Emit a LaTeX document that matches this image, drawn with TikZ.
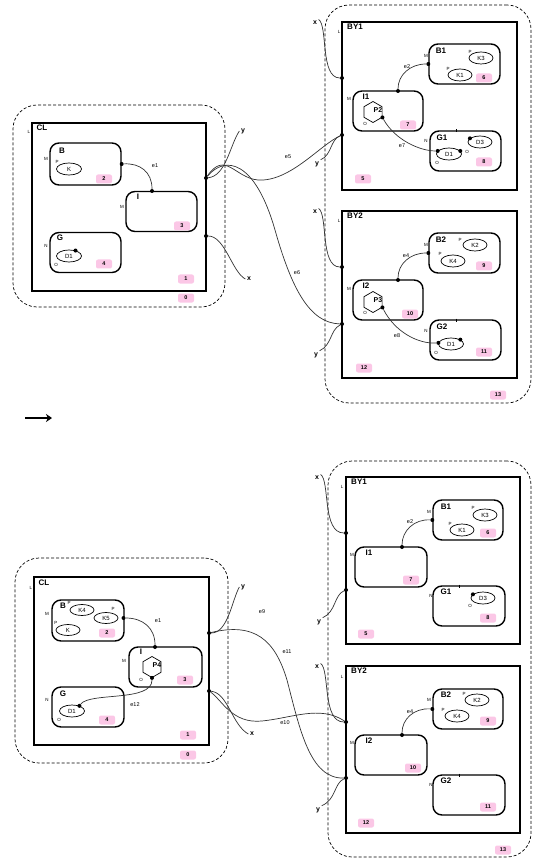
\documentclass[tikz,border=0pt]{standalone}
\usepackage{fontspec}
\setmainfont{Liberation Sans}
\usetikzlibrary{arrows.meta,shapes.geometric}

\begin{document}
\begin{tikzpicture}[
  x=1pt, y=-1pt,
  region/.style={draw, dash pattern=on 3pt off 2pt, line width=0.7pt, rounded corners=24pt, inner sep=0},
  root/.style={draw, line width=1.6pt, inner sep=0},
  ctrl/.style={draw, line width=1.4pt, rounded corners=9pt, inner sep=0, minimum width=71pt, minimum height=40pt},
  atom/.style={draw, ellipse, line width=0.7pt, inner sep=0, minimum width=25pt, minimum height=12pt, font=\fontsize{6}{6}\selectfont},
  hexa/.style={draw, regular polygon, regular polygon sides=6, shape border rotate=30, line width=0.7pt, inner sep=0, minimum size=21pt},
  htxt/.style={inner sep=0, font=\bfseries\fontsize{7}{7}\selectfont},
  cname/.style={inner sep=0, font=\bfseries\fontsize{8}{9}\selectfont},
  port/.style={inner sep=0, font=\fontsize{4.5}{5}\selectfont},
  outer/.style={inner sep=1.5pt, font=\bfseries\fontsize{7}{7}\selectfont},
  elbl/.style={inner sep=0, font=\fontsize{5.5}{6}\selectfont},
  tag/.style={fill=magenta!22, rounded corners=2pt, inner sep=0, minimum width=16pt, minimum height=9pt, font=\bfseries\fontsize{5.5}{6}\selectfont},
  link/.style={line width=0.7pt, draw=black!80},
  dot/.style={circle, fill, inner sep=0, minimum size=4pt},
  tick/.style={line width=0.6pt}
]
\useasboundingbox (0,0) rectangle (532,858);

\node[region, minimum width=212pt, minimum height=202pt] (r0L) at (119,206) {};
\node[tag] (t0L) at (186,298) {0};
\node[root, minimum width=174pt, minimum height=168pt] (clL) at (119,207) {};
\node[cname] (nclL) at (42,128) {CL};
\node[port] (lclL) at (29,132) {L};
\node[tag] (t1L) at (186,279) {1};
\node[ctrl, minimum height=42pt] (bL) at (85.5,164) {};
\node[cname] (nbL) at (62,151) {B};
\node[port] (mbL) at (46,159) {M};
\node[atom] (kL) at (69,169) {K};
\node[port] (pkL) at (57,162) {P};
\node[tag] (t2L) at (104,179) {2};
\node[ctrl] (iL) at (161.5,211.5) {};
\node[cname] (niL) at (138,197) {I};
\node[port] (miL) at (122,207) {M};
\node[tag] (t3L) at (182,226) {3};
\node[ctrl] (gL) at (85.5,252.5) {};
\node[cname] (ngL) at (60,238) {G};
\node[port] (ngpL) at (46,246) {N};
\node[atom] (dL) at (69,256) {D1};
\node[port] (odL) at (56,265) {O};
\node[dot] (dLp) at (dL.40) {};
\node[tag] (t4L) at (104,264) {4};
\node[dot] (bLp) at (bL.east) {};
\node[dot] (iLp) at (152,191) {};
\node[elbl] (e1L) at (155,166) {e1};
\node[dot] (pL) at (206,178) {};
\node[dot] (qL) at (206,236) {};
\node[outer] (yL) at (243,131) {y};
\node[outer] (xL) at (249,279) {x};
\node[elbl] (e5L) at (288,157) {e5};
\node[elbl] (e6L) at (297,273) {e6};

\node[region, minimum width=206pt, minimum height=398pt] (r13L) at (428,204) {};
\node[tag] (t13L) at (498,395) {13};
\node[root, minimum width=175pt, minimum height=168pt] (by1L) at (429.5,106) {};
\node[cname] (nby1L) at (355,27) {BY1};
\node[port] (lby1L) at (339,32) {L};
\node[tag] (t5L) at (363,179) {5};
\node[dot] (x1L) at (342,78) {};
\node[dot] (y1L) at (342,135) {};
\node[outer] (xaL) at (315,23) {x};
\node[outer] (yaL) at (317,164) {y};
\node[ctrl] (b1L) at (464.5,64) {};
\node[cname] (nb1L) at (441,51) {B1};
\node[port] (mb1L) at (426,56) {M};
\node[atom, minimum width=24pt] (k3L) at (481,58) {K3};
\node[port] (pk3L) at (470,52) {P};
\node[atom, minimum width=24pt] (k1L) at (460,75) {K1};
\node[port] (pk1L) at (448,69) {P};
\node[tag] (t6L) at (484,78) {6};
\node[dot] (b1Lp) at (b1L.west) {};
\node[dot] (i1Lp) at (398,91) {};
\node[elbl] (e2L) at (407,67) {e2};
\node[ctrl, minimum width=70pt] (i1L) at (388,111) {};
\node[cname] (ni1L) at (366,97) {I1};
\node[port] (mi1L) at (349,99) {M};
\node[hexa] (p2L) at (373,112) {};
\node[htxt] (np2L) at (378,110) {P2};
\node[port] (op2L) at (365,124) {O};
\node[dot] (p2Lp) at (p2L.-30) {};
\node[tag] (t7L) at (408,125) {7};
\node[ctrl] (g1L) at (465.5,151) {};
\node[cname] (ng1L) at (442,138) {G1};
\node[port] (ng1pL) at (426,141) {N};
\node[atom] (d1L) at (449,154) {D1};
\node[dot] (d1Lp) at (d1L.165) {};
\node[dot] (d1Lq) at (d1L.15) {};
\node[port] (od1L) at (437,163) {O};
\node[port] (od1qL) at (467,152) {O};
\node[atom, minimum width=24pt] (d3L) at (480,142) {D3};
\node[dot] (d3Lp) at (d3L.160) {};
\node[tag] (t8L) at (484,162) {8};
\node[elbl] (e7L) at (402,146) {e7};

\node[root, minimum width=175pt, minimum height=167pt] (by2L) at (429.5,294.5) {};
\node[cname] (nby2L) at (355,216) {BY2};
\node[port] (lby2L) at (339,221) {L};
\node[tag] (t12L) at (364,368) {12};
\node[dot] (x2L) at (342,267) {};
\node[dot] (y2L) at (342,324) {};
\node[outer] (xbL) at (315,212) {x};
\node[outer] (ybL) at (316,355) {y};
\node[ctrl] (b2L) at (464.5,253) {};
\node[cname] (nb2L) at (441,240) {B2};
\node[port] (mb2L) at (426,245) {M};
\node[atom, minimum width=24pt] (k2L) at (475,245) {K2};
\node[port] (pk2L) at (460,240) {P};
\node[atom, minimum width=24pt] (k4L) at (453,261) {K4};
\node[port] (pk4L) at (440,254) {P};
\node[tag] (t9L) at (484,266) {9};
\node[dot] (b2Lp) at (b2L.west) {};
\node[dot] (i2Lp) at (398,280) {};
\node[elbl] (e4L) at (406,256) {e4};
\node[ctrl, minimum width=70pt] (i2L) at (388,300) {};
\node[cname] (ni2L) at (366,286) {I2};
\node[port] (mi2L) at (349,289) {M};
\node[hexa] (p3L) at (373,302) {};
\node[htxt] (np3L) at (378,300) {P3};
\node[port] (op3L) at (365,313) {O};
\node[dot] (p3Lp) at (p3L.-30) {};
\node[tag] (t10L) at (410,314) {10};
\node[ctrl] (g2L) at (465.5,340) {};
\node[cname] (ng2L) at (442,327) {G2};
\node[port] (ng2pL) at (426,331) {N};
\node[atom] (d2L) at (451,344) {D1};
\node[dot] (d2Lp) at (d2L.175) {};
\node[dot] (d2Lq) at (d2L.25) {};
\node[port] (od2L) at (436,353) {O};
\node[tag] (t11L) at (484,352) {11};
\node[elbl] (e8L) at (397,336) {e8};

\draw[tick] (456,129.5) -- (456,132.5);
\draw[tick] (456,318.5) -- (456,321.5);
\draw[link] (bLp) .. controls (140,163) and (152,172) .. (iLp);
\draw[link] (pL) .. controls (226,176) and (230,145) .. (yL.west);
\draw[link] (qL) .. controls (225,236) and (232,272) .. (xL.west);
\draw[link] (pL) .. controls (225,150) and (235,178) .. (258,180) .. controls (290,182) and (320,145) .. (y1L);
\draw[link] (pL) .. controls (225,155) and (255,160) .. (275,230) .. controls (292,290) and (310,323) .. (y2L);
\draw[link] (xaL.north east) .. controls (328,26) and (320,78) .. (x1L);
\draw[link] (y1L) .. controls (330,140) and (332,155) .. (yaL.north east);
\draw[link] (b1Lp) .. controls (410,64) and (398,75) .. (i1Lp);
\draw[link] (p2Lp) .. controls (395,140) and (420,151) .. (d1Lp);
\draw[link] (xbL.north east) .. controls (328,215) and (320,267) .. (x2L);
\draw[link] (y2L) .. controls (330,330) and (332,345) .. (ybL.north east);
\draw[link] (b2Lp) .. controls (410,253) and (398,264) .. (i2Lp);
\draw[link] (p3Lp) .. controls (395,332) and (418,344) .. (d2Lp);

\draw[line width=2pt, -{Stealth[length=6pt, width=8pt]}] (25,418) -- (52,418);

\node[region, minimum width=213pt, minimum height=205pt] (r0R) at (121.5,660.5) {};
\node[tag] (t0R) at (188,755) {0};
\node[root, minimum width=175pt, minimum height=168pt] (clR) at (121.5,661) {};
\node[cname] (nclR) at (44,583) {CL};
\node[port] (lclR) at (31,588) {L};
\node[tag] (t1R) at (188,735) {1};
\node[ctrl, minimum width=72pt, minimum height=41pt] (bR) at (88,620.5) {};
\node[cname] (nbR) at (63,606) {B};
\node[port] (mbR) at (47,614) {M};
\node[atom, minimum width=24pt, minimum height=11pt] (k4R) at (82,610) {K4};
\node[port] (pk4R) at (69,603) {P};
\node[atom, minimum width=24pt, minimum height=11pt] (k5R) at (106,618) {K5};
\node[port] (pk5R) at (113,609) {P};
\node[atom, minimum width=24pt, minimum height=11pt] (kR) at (68,630) {K};
\node[port] (pkR) at (56,623) {P};
\node[tag] (t2R) at (107,633) {2};
\node[dot] (bRp) at (123.5,618) {};
\node[ctrl, minimum width=73pt] (iR) at (165.5,667) {};
\node[cname] (niR) at (141,652) {I};
\node[port] (miR) at (124,661) {M};
\node[hexa] (p4R) at (152,667) {};
\node[htxt] (np4R) at (157,665) {P4};
\node[port] (op4R) at (141,680) {O};
\node[dot] (p4Rp) at (p4R.-90) {};
\node[tag] (t3R) at (185,680) {3};
\node[dot] (iRp) at (155,647) {};
\node[elbl] (e1R) at (158,621) {e1};
\node[ctrl, minimum width=72pt] (gR) at (88,707) {};
\node[cname] (ngR) at (63,694) {G};
\node[port] (ngpR) at (47,700) {N};
\node[atom] (dR) at (72,711) {D1};
\node[dot] (dRp) at (dR.35) {};
\node[port] (odR) at (59,720) {O};
\node[tag] (t4R) at (107,720) {4};
\node[elbl] (e12R) at (135,705) {e12};
\node[dot] (pR) at (209,633) {};
\node[dot] (qR) at (209,691) {};
\node[outer] (yR) at (243,587) {y};
\node[outer] (xR) at (252,734) {x};
\node[elbl] (e9R) at (262,612) {e9};
\node[elbl] (e11R) at (287,652) {e11};
\node[elbl] (e10R) at (285,723) {e10};

\node[region, minimum width=203pt, minimum height=396pt] (r13R) at (429.5,659) {};
\node[tag] (t13R) at (503,850) {13};
\node[root, minimum width=174pt, minimum height=167pt] (by1R) at (433,560.5) {};
\node[cname] (nby1R) at (359,482) {BY1};
\node[port] (lby1R) at (342,487) {L};
\node[tag] (t5R) at (366,634) {5};
\node[dot] (x1R) at (346,533) {};
\node[dot] (y1R) at (346,590) {};
\node[outer] (xaR) at (317,478) {x};
\node[outer] (yaR) at (319,622) {y};
\node[ctrl, minimum width=70pt] (b1R) at (468,520) {};
\node[cname] (nb1R) at (446,507) {B1};
\node[port] (mb1R) at (429,512) {M};
\node[atom, minimum width=24pt] (k3R) at (485,515) {K3};
\node[port] (pk3R) at (473,508) {P};
\node[atom, minimum width=24pt] (k1R) at (462,530) {K1};
\node[port] (pk1R) at (450,524) {P};
\node[tag] (t6R) at (488,533) {6};
\node[dot] (b1Rp) at (b1R.west) {};
\node[dot] (i1Rp) at (402,547) {};
\node[elbl] (e2R) at (410,522) {e2};
\node[ctrl, minimum width=72pt] (i1R) at (391,567) {};
\node[cname] (ni1R) at (369,553) {I1};
\node[port] (mi1R) at (352,555) {M};
\node[tag] (t7R) at (411,580) {7};
\node[ctrl, minimum width=72pt] (g1R) at (469,606) {};
\node[cname] (ng1R) at (446,592) {G1};
\node[port] (ng1pR) at (431,596) {N};
\node[atom, minimum width=24pt] (d3R) at (483,598) {D3};
\node[dot] (d3Rp) at (d3R.160) {};
\node[port] (od3R) at (470,606) {O};
\node[tag] (t8R) at (488,618) {8};

\node[root, minimum width=174pt, minimum height=167pt] (by2R) at (433,749.5) {};
\node[cname] (nby2R) at (359,671) {BY2};
\node[port] (lby2R) at (342,677) {L};
\node[tag] (t12R) at (366,823) {12};
\node[dot] (x2R) at (346,722) {};
\node[dot] (y2R) at (346,778) {};
\node[outer] (xbR) at (317,667) {x};
\node[outer] (ybR) at (318,810) {y};
\node[ctrl, minimum width=70pt] (b2R) at (468,709) {};
\node[cname] (nb2R) at (446,695) {B2};
\node[port] (mb2R) at (429,700) {M};
\node[atom, minimum width=24pt] (k2R) at (477,700) {K2};
\node[port] (pk2R) at (464,694) {P};
\node[atom, minimum width=24pt] (k4bR) at (457,716) {K4};
\node[port] (pk4bR) at (443,710) {P};
\node[tag] (t9R) at (488,721) {9};
\node[dot] (b2Rp) at (b2R.west) {};
\node[dot] (i2Rp) at (402,735) {};
\node[elbl] (e4R) at (410,712) {e4};
\node[ctrl, minimum width=72pt] (i2R) at (391,755) {};
\node[cname] (ni2R) at (369,741) {I2};
\node[port] (mi2R) at (352,743) {M};
\node[tag] (t10R) at (413,768) {10};
\node[ctrl, minimum width=72pt] (g2R) at (469,795) {};
\node[cname] (ng2R) at (446,781) {G2};
\node[port] (ng2pR) at (431,785) {N};
\node[tag] (t11R) at (488,807) {11};

\draw[tick] (459,584.5) -- (459,587.5);
\draw[tick] (459,773.5) -- (459,776.5);
\draw[link] (bRp) .. controls (143,618) and (155,628) .. (iRp);
\draw[link] (p4Rp) .. controls (152,702) and (90,692) .. (dRp);
\draw[link] (pR) .. controls (228,633) and (232,600) .. (yR.west);
\draw[link] (qR) .. controls (228,693) and (232,725) .. (xR.west);
\draw[link] (pR) .. controls (255,622) and (275,640) .. (287,680) .. controls (300,730) and (310,779) .. (y2R);
\draw[link] (qR) .. controls (222,700) and (232,724) .. (262,721) .. controls (292,718) and (320,705) .. (x2R);
\draw[link] (xaR.north east) .. controls (330,481) and (322,533) .. (x1R);
\draw[link] (y1R) .. controls (334,595) and (336,612) .. (yaR.north east);
\draw[link] (b1Rp) .. controls (414,519) and (402,531) .. (i1Rp);
\draw[link] (xbR.north east) .. controls (330,670) and (322,722) .. (x2R);
\draw[link] (y2R) .. controls (334,783) and (336,800) .. (ybR.north east);
\draw[link] (b2Rp) .. controls (414,708) and (402,719) .. (i2Rp);
\end{tikzpicture}
\end{document}
